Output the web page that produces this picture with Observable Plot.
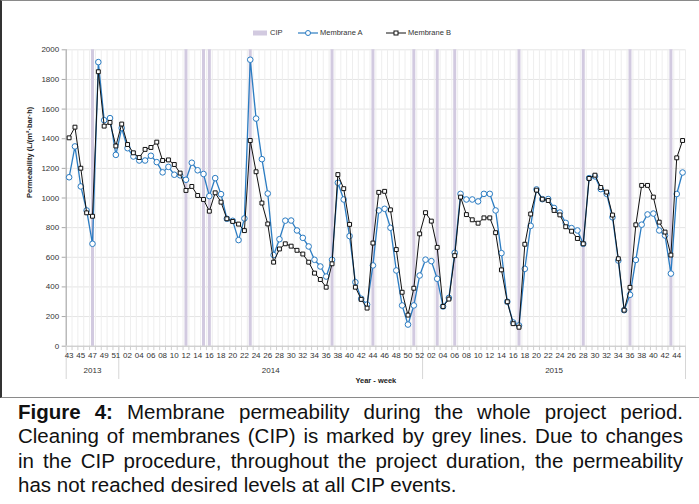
<!DOCTYPE html>
<html><head><meta charset="utf-8">
<script src="https://cdn.jsdelivr.net/npm/d3@7"></script>
<script src="https://cdn.jsdelivr.net/npm/@observablehq/plot@0.6"></script>
<style>
body{margin:0;background:#fff;font-family:"Liberation Sans",Arial,sans-serif;}
#fig{position:relative;width:699px;height:504px;overflow:hidden;background:#fff;}
#chartbox{position:absolute;left:0;top:0;width:697px;height:396px;border:1px solid #8a8a8a;border-left:2px solid #333;}
#chart{position:absolute;left:0;top:0;}
#legend{position:absolute;top:27px;left:0;width:699px;height:12px;font-size:7.5px;color:#333;}
#legend .it{position:absolute;top:0;height:12px;line-height:12px;white-space:nowrap;}
#legend svg{position:absolute;top:0;}
#caption{position:absolute;left:18px;top:400px;width:665px;font-size:20.5px;line-height:24.3px;color:#111;}
#caption div{text-align:justify;text-align-last:justify;white-space:nowrap;}
#caption div.last{text-align-last:left;}
</style></head>
<body>
<div id="fig">
  <div id="chartbox"></div>
  <div id="chart"></div>
  <div id="legend"></div>
  <div id="caption"></div>
</div>
<script>
// ---- data ----
const years = ["2013", "2014", "2015"];
const yearWeekRanges = [[43, 51], [1, 52], [1, 45]]; // weeks present per year
const membraneA = [1140,1348,1078,916,691,1917,1525,1539,1291,1472,1336,1280,1253,1253,1285,1242,1173,1210,1157,1153,1123,1238,1187,1162,1013,1134,1026,860,846,716,862,1933,1536,1262,1030,615,722,847,848,781,731,673,583,538,470,583,1103,990,743,432,320,281,545,916,927,799,511,275,146,275,477,584,574,455,268,326,630,1028,990,990,977,1028,1028,916,628,300,160,140,522,812,1058,992,993,933,902,832,797,781,691,1134,1146,1060,1028,870,578,243,347,582,820,889,895,781,747,490,1027,1172];
const membraneB = [1406,1478,1201,900,877,1852,1485,1510,1351,1499,1361,1305,1273,1328,1341,1377,1253,1257,1226,1168,1051,1078,1017,990,911,1035,972,860,842,824,780,1388,1177,966,825,567,656,691,675,647,622,567,493,450,398,556,1158,1063,822,398,316,257,696,1038,1045,920,652,364,210,391,758,901,844,667,268,318,611,1006,888,853,830,866,866,766,515,300,152,128,688,892,1053,992,983,916,886,806,776,727,691,1132,1154,1071,1040,885,590,243,397,819,1085,1085,1006,837,770,615,1271,1388];
const cipWeeks = [[2013,47],[2014,12],[2014,15],[2014,16],[2014,23],[2014,37],[2014,44],[2014,51],[2015,3],[2015,6],[2015,17],[2015,28],[2015,36],[2015,43]];
const yTicks = [0,200,400,600,800,1000,1200,1400,1600,1800,2000];
const seriesNames = ["CIP", "Membrane A", "Membrane B"];
const yTitle = "Permeability (L/(m²·bar·h)";
const xTitle = "Year - week";
const captionLines = [
  ["Figure 4:", " Membrane permeability during the whole project period."],
  ["", "Cleaning of membranes (CIP) is marked by grey lines. Due to changes"],
  ["", "in the CIP procedure, throughout the project duration, the permeability"],
  ["", "has not reached desired levels at all CIP events."]
];

// ---- categories ----
const cats = [];
years.forEach((y, k) => { for (let w = yearWeekRanges[k][0]; w <= yearWeekRanges[k][1]; w++) cats.push({year: +y, week: w}); });
const idxOf = (y, w) => cats.findIndex(c => c.year === y && c.week === w);
const cipIdx = cipWeeks.map(([y, w]) => idxOf(y, w));
const n = cats.length;
const yearGroups = years.map(y => {
  const ii = cats.map((c, i) => c.year === +y ? i : -1).filter(i => i >= 0);
  return {year: y, first: ii[0], last: ii[ii.length - 1]};
});
const boundaries = [-0.5, ...yearGroups.map(g => g.last + 0.5)];
const A = membraneA.map((v, i) => ({i, v}));
const B = membraneB.map((v, i) => ({i, v}));
const blue = "#2b7cc2";

const chart = Plot.plot({
  width: 699, height: 397,
  marginLeft: 65.7, marginRight: 14, marginTop: 49.3, marginBottom: 51.3,
  style: {fontFamily: "Liberation Sans, Arial, sans-serif", fontSize: "8px", background: "transparent"},
  x: {type: "linear", domain: [-0.5, n - 0.5], axis: null},
  y: {domain: [0, 2000], axis: null},
  marks: [
    Plot.ruleY(yTicks.slice(1), {stroke: "#e4e4e4"}),
    Plot.ruleX(d3.range(0, n).map(i => i + 0.5), {stroke: "#eeeeee"}),
    Plot.ruleX(cipIdx, {stroke: "#d2cae0", strokeWidth: 3}),
    Plot.ruleY([0], {stroke: "#bdbdbd"}),
    Plot.ruleX([-0.5], {stroke: "#a9a9a9", strokeWidth: 1.2}),
    Plot.ruleX(d3.range(-0.5, n, 1), {y1: 0, y2: -30, stroke: "#cfcfcf"}),
    Plot.ruleX(boundaries, {y1: 0, y2: -225, stroke: "#d6d6d6"}),
    Plot.axisY({ticks: yTicks, tickFormat: d => String(d), tickSize: 4, tickPadding: 3, label: null, stroke: "#a9a9a9", fill: "#333", fontSize: 8}),
    Plot.axisX({ticks: d3.range(0, n, 2), tickFormat: i => String(cats[i].week).padStart(2, "0"), tickSize: 0, tickPadding: 6, label: null, fill: "#333", fontSize: 8}),
    Plot.text(yearGroups, {x: g => (g.first + g.last) / 2, text: "year", frameAnchor: "bottom", dy: 27, fill: "#333", fontSize: 8}),
    Plot.text([xTitle], {frameAnchor: "bottom", dy: 37, fontWeight: "bold", fill: "#222", fontSize: 7.5}),
    Plot.text([yTitle], {frameAnchor: "left", rotate: -90, dx: -37, fontWeight: "bold", fill: "#222", fontSize: 7.5}),
    Plot.line(A, {x: "i", y: "v", stroke: blue, strokeWidth: 1.3}),
    Plot.dot(A, {x: "i", y: "v", r: 2.8, fill: "white", stroke: blue, strokeWidth: 1}),
    Plot.line(B, {x: "i", y: "v", stroke: "#111", strokeWidth: 1}),
    Plot.dot(B, {x: "i", y: "v", symbol: "square", r: 2.2, fill: "white", stroke: "#111", strokeWidth: 1})
  ]
});
document.getElementById("chart").appendChild(chart);

// legend
const lg = document.getElementById("legend");
lg.innerHTML =
  `<svg style="left:253px" width="14" height="12"><rect x="0" y="3.5" width="14" height="5" fill="#d2cae0"/></svg>` +
  `<span class="it" style="left:270px">${seriesNames[0]}</span>` +
  `<svg style="left:298px" width="20" height="12"><line x1="0" x2="20" y1="6" y2="6" stroke="${blue}" stroke-width="1.2"/><circle cx="10" cy="6" r="2.5" fill="white" stroke="${blue}"/></svg>` +
  `<span class="it" style="left:320px">${seriesNames[1]}</span>` +
  `<svg style="left:386px" width="20" height="12"><line x1="0" x2="20" y1="6" y2="6" stroke="#111" stroke-width="1"/><rect x="8" y="4" width="4" height="4" fill="white" stroke="#111"/></svg>` +
  `<span class="it" style="left:408px">${seriesNames[2]}</span>`;

// caption
const cap = document.getElementById("caption");
captionLines.forEach((l, k) => {
  const d = document.createElement("div");
  if (k === captionLines.length - 1) d.className = "last";
  d.innerHTML = (l[0] ? `<b>${l[0]}</b>` : "") + l[1];
  cap.appendChild(d);
});
</script>
</body></html>
